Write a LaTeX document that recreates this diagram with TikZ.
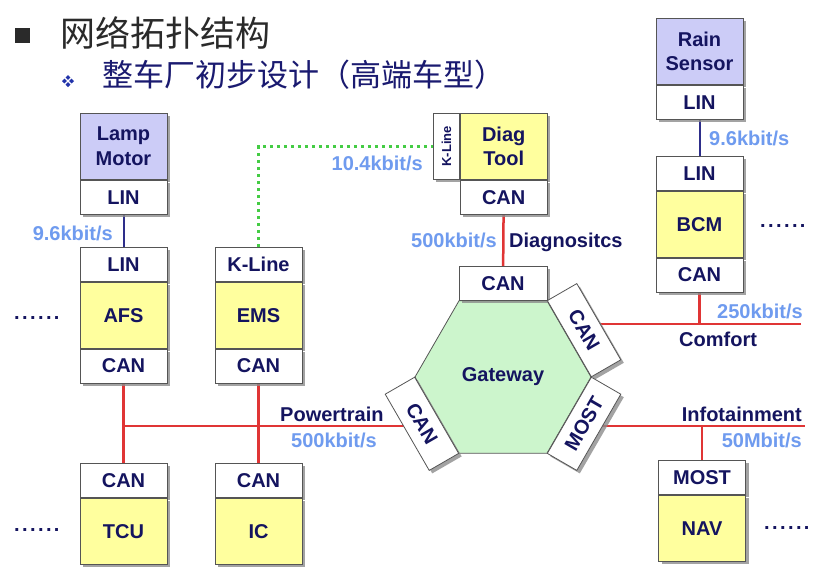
\documentclass[tikz,border=0pt]{standalone}
\usepackage{fontspec}
\setmainfont{Liberation Sans}
\newfontfamily\cjkfont{Noto Sans CJK SC}
\usetikzlibrary{shapes.geometric,shadows,backgrounds}
\definecolor{navy}{HTML}{14145F}
\definecolor{lightblue}{HTML}{6F9BEF}
\definecolor{prp}{HTML}{CCCCF7}
\definecolor{ylw}{HTML}{FFFF9E}
\definecolor{hexgreen}{HTML}{CCF5CC}
\definecolor{canred}{HTML}{E03535}
\definecolor{linblue}{HTML}{2E2E8A}
\definecolor{dotgreen}{HTML}{44CC44}
\definecolor{bordergray}{HTML}{555555}
\definecolor{titlegray}{HTML}{2A2A2A}
\definecolor{subnavy}{HTML}{1A1A70}
\definecolor{bulletblue}{HTML}{2233AA}
\newcommand\labfont{\bfseries\fontsize{20}{24.5}\selectfont}
\begin{document}
\begin{tikzpicture}[x=1pt,y=-1pt,
  seg/.style={draw=bordergray, line width=0.8pt, minimum width=87pt, inner sep=0pt,
    font=\labfont, text=navy, fill=white, align=center,
    drop shadow={shadow xshift=3pt, shadow yshift=-3pt, fill=black!45, opacity=0.8}},
  iface/.style={seg, minimum height=34pt},
  mainy/.style={seg, minimum height=66pt, fill=ylw},
  mainp/.style={seg, minimum height=66pt, fill=prp},
  lbl/.style={font=\labfont, text=lightblue, inner sep=0pt, text height=14.4pt, text depth=0pt},
  nlbl/.style={lbl, text=navy},
  dotsl/.style={font=\labfont\addfontfeature{LetterSpace=12}, text=navy, inner sep=0pt},
  canline/.style={draw=canred, line width=2.5pt},
  linline/.style={draw=linblue, line width=2pt},
  kline/.style={draw=dotgreen, line width=3pt, dash pattern=on 3pt off 4pt}]

\useasboundingbox (0,0) rectangle (832,570);

% ---- title ----
\node[fill=titlegray, minimum size=15pt, inner sep=0pt] (bul1) at (22.5,35.5) {};
\node[anchor=west, inner sep=0pt, text=titlegray, font=\cjkfont\fontsize{35}{41}\selectfont] (title) at (60,33) {网络拓扑结构};
\foreach \dx/\dy in {0/-3.6,0/3.6,-3.6/0,3.6/0}
  \fill[bulletblue, shift={(68+\dx,81+\dy)}] (0,-2.4) -- (2.4,0) -- (0,2.4) -- (-2.4,0) -- cycle;
\node[anchor=west, inner sep=0pt, text=subnavy, font=\cjkfont\fontsize{31}{37}\selectfont] (subtitle) at (102,75) {整车厂初步设计（高端车型）};

% ---- left column ----
\node[mainp, anchor=north] (lamp) at (123.5,113) {Lamp\\Motor};
\node[iface, anchor=north] (lampLIN) at (lamp.south) {LIN};
\node[iface, anchor=north] (afsLIN) at (123.5,247) {LIN};
\node[mainy, anchor=north] (afs) at (afsLIN.south) {AFS};
\node[iface, anchor=north] (afsCAN) at (afs.south) {CAN};
\node[iface, anchor=north] (tcuCAN) at (123.5,463) {CAN};
\node[mainy, anchor=north] (tcu) at (tcuCAN.south) {TCU};

% ---- EMS column ----
\node[iface, anchor=north] (emsKL) at (258.5,247) {K-Line};
\node[mainy, anchor=north] (ems) at (emsKL.south) {EMS};
\node[iface, anchor=north] (emsCAN) at (ems.south) {CAN};
\node[iface, anchor=north] (icCAN) at (258.5,463) {CAN};
\node[mainy, anchor=north] (ic) at (icCAN.south) {IC};

% ---- Diag tool ----
\node[seg, minimum width=26pt, minimum height=66pt, anchor=north west] (dkl) at (433,113)
  {\rotatebox{90}{\fontsize{13}{15}\selectfont K-Line}};
\node[mainy, anchor=north west] (diag) at (dkl.north east) {Diag\\Tool};
\node[iface, anchor=north] (diagCAN) at (diag.south) {CAN};

% ---- Gateway ----
\node[regular polygon, regular polygon sides=6, minimum size=176pt, inner sep=0pt,
      draw=bordergray, line width=0.8pt, fill=hexgreen, font=\labfont, text=navy] (gw) at (503,377) {Gateway};
\node[iface, minimum width=88pt, anchor=south] (gwT) at (503,300.8) {CAN};
\node[iface, minimum width=88pt, rotate=-60, anchor=south] (gwUR) at (569,338.9) {CAN};
\node[iface, minimum width=88pt, rotate=60, anchor=north] (gwLR) at (569,415.1) {MOST};
\node[iface, minimum width=88pt, rotate=-60, anchor=north] (gwLL) at (437,415.1) {CAN};

% ---- right column ----
\node[mainp, anchor=north] (rain) at (699.5,18) {Rain\\Sensor};
\node[iface, anchor=north] (rainLIN) at (rain.south) {LIN};
\node[iface, anchor=north] (bcmLIN) at (699.5,156) {LIN};
\node[mainy, anchor=north] (bcm) at (bcmLIN.south) {BCM};
\node[iface, anchor=north] (bcmCAN) at (bcm.south) {CAN};
\node[iface, anchor=north] (navMOST) at (702,460) {MOST};
\node[mainy, anchor=north] (nav) at (navMOST.south) {NAV};

% ---- connectors ----
\coordinate (ptL) at (123.5,426);
\coordinate (cmR) at (801,324);
\coordinate (inR) at (805,426);
\begin{scope}[on background layer]
  \fill[white] (0,0) rectangle (832,570);
  \draw[linline] (lampLIN) -- (afsLIN);
  \draw[linline] (rainLIN) -- (bcmLIN);
  \draw[kline] (emsKL.north) |- (dkl.west);
  \draw[canline] (diagCAN) -- (gwT);
  \draw[canline] (afsCAN) -- (tcuCAN);
  \draw[canline] (emsCAN) -- (icCAN);
  \draw[canline] (ptL) -- (ptL -| gwLL.center);
  \draw[canline] (gwUR.center |- cmR) -- (cmR);
  \draw[canline] (bcmCAN) -- (bcmCAN |- cmR);
  \draw[canline] (gwLR.center |- inR) -- (inR);
  \draw[canline] (navMOST) -- (navMOST |- inR);
\end{scope}

% ---- labels ----
\node[lbl, anchor=east] (l1) at (113,233) {9.6kbit/s};
\node[lbl, anchor=east] (l2) at (423,163) {10.4kbit/s};
\node[lbl, anchor=east] (l3) at (497,240) {500kbit/s};
\node[nlbl, anchor=west] (l4) at (509,240) {Diagnositcs};
\node[nlbl, anchor=west] (l5) at (280,414) {Powertrain};
\node[lbl, anchor=west] (l6) at (291,440) {500kbit/s};
\node[lbl, anchor=west] (l7) at (709,138) {9.6kbit/s};
\node[lbl, anchor=east] (l8) at (803,311) {250kbit/s};
\node[nlbl, anchor=west] (l9) at (679,339) {Comfort};
\node[nlbl, anchor=east] (l10) at (802,414) {Infotainment};
\node[lbl, anchor=east] (l11) at (802,440) {50Mbit/s};

\node[dotsl, anchor=west] (d1) at (14,318) {......};
\node[dotsl, anchor=west] (d2) at (14,530) {......};
\node[dotsl, anchor=west] (d3) at (760,226) {......};
\node[dotsl, anchor=west] (d4) at (764,528) {......};
\end{tikzpicture}
\end{document}
